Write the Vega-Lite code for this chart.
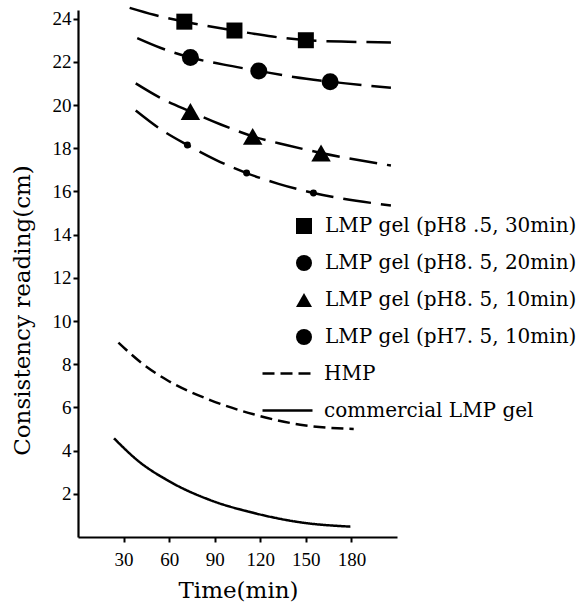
{
  "$schema": "https://vega.github.io/schema/vega-lite/v6.json",
  "width": 319,
  "height": 527,
  "autosize": "none",
  "padding": {"left": 78, "top": 10, "right": 191, "bottom": 70},
  "background": "white",
  "config": {
    "view": {"stroke": null},
    "axis": {
      "domainColor": "black", "domainWidth": 2.2, "tickColor": "black", "tickWidth": 2, "tickSize": 5,
      "grid": false, "labelFont": "Liberation Serif", "labelFontSize": 19, "labelColor": "black",
      "titleFont": "DejaVu Serif", "titleFontSize": 23, "titleFontWeight": "normal", "titleColor": "black"
    },
    "legend": {
      "labelFont": "DejaVu Serif", "labelFontSize": 20, "labelColor": "black", "labelLimit": 400
    }
  },
  "datasets": {
    "lines": [
      {"series": "A", "time": 34, "value": 24.5},
      {"series": "A", "time": 50, "value": 24.18},
      {"series": "A", "time": 70, "value": 23.86},
      {"series": "A", "time": 103, "value": 23.45},
      {"series": "A", "time": 128, "value": 23.17},
      {"series": "A", "time": 150, "value": 23.0},
      {"series": "A", "time": 178, "value": 22.93},
      {"series": "A", "time": 206, "value": 22.9},
      {"series": "B", "time": 39, "value": 23.1},
      {"series": "B", "time": 55, "value": 22.63},
      {"series": "B", "time": 74, "value": 22.2},
      {"series": "B", "time": 96, "value": 21.87},
      {"series": "B", "time": 119, "value": 21.58},
      {"series": "B", "time": 142, "value": 21.3},
      {"series": "B", "time": 166, "value": 21.08},
      {"series": "B", "time": 206, "value": 20.8},
      {"series": "C", "time": 38, "value": 21.0},
      {"series": "C", "time": 55, "value": 20.3},
      {"series": "C", "time": 74, "value": 19.7},
      {"series": "C", "time": 94, "value": 19.1},
      {"series": "C", "time": 115, "value": 18.55},
      {"series": "C", "time": 137, "value": 18.15},
      {"series": "C", "time": 160, "value": 17.78},
      {"series": "C", "time": 206, "value": 17.2},
      {"series": "D", "time": 38, "value": 19.75},
      {"series": "D", "time": 54, "value": 18.9},
      {"series": "D", "time": 72, "value": 18.15},
      {"series": "D", "time": 91, "value": 17.45},
      {"series": "D", "time": 111, "value": 16.85},
      {"series": "D", "time": 132, "value": 16.35},
      {"series": "D", "time": 155, "value": 15.93},
      {"series": "D", "time": 206, "value": 15.35},
      {"series": "E", "time": 26.6, "value": 9.0},
      {"series": "E", "time": 42, "value": 8.05},
      {"series": "E", "time": 58.5, "value": 7.27},
      {"series": "E", "time": 87, "value": 6.34},
      {"series": "E", "time": 115.6, "value": 5.68},
      {"series": "E", "time": 146.3, "value": 5.2},
      {"series": "E", "time": 181.5, "value": 5.0},
      {"series": "F", "time": 23.7, "value": 4.57},
      {"series": "F", "time": 40, "value": 3.5},
      {"series": "F", "time": 58.5, "value": 2.64},
      {"series": "F", "time": 87, "value": 1.71},
      {"series": "F", "time": 115.4, "value": 1.12},
      {"series": "F", "time": 146.3, "value": 0.68},
      {"series": "F", "time": 179.3, "value": 0.48}
    ],
    "points": [
      {"series": "A", "time": 70, "value": 23.86},
      {"series": "A", "time": 103, "value": 23.45},
      {"series": "A", "time": 150, "value": 23.0},
      {"series": "B", "time": 74, "value": 22.2},
      {"series": "B", "time": 119, "value": 21.58},
      {"series": "B", "time": 166, "value": 21.08},
      {"series": "C", "time": 74, "value": 19.7},
      {"series": "C", "time": 115, "value": 18.55},
      {"series": "C", "time": 160, "value": 17.78},
      {"series": "D", "time": 72, "value": 18.15},
      {"series": "D", "time": 111, "value": 16.85},
      {"series": "D", "time": 155, "value": 15.93}
    ]
  },
  "encoding": {
    "x": {
      "field": "time", "type": "quantitative",
      "scale": {"domain": [0, 210], "nice": false, "zero": false},
      "axis": {
        "values": [30, 60, 90, 120, 150, 180], "title": "Time(min)", "labelPadding": 8,
        "titleX": 160, "titleY": 53, "titleBaseline": "middle", "titleAlign": "center"
      }
    },
    "y": {
      "field": "value", "type": "quantitative",
      "scale": {"domain": [0, 24.4], "nice": false, "zero": false},
      "axis": {
        "values": [2, 4, 6, 8, 10, 12, 14, 16, 18, 20, 22, 24], "title": "Consistency reading(cm)", "labelPadding": 2,
        "titleX": -56, "titleY": 300, "titleBaseline": "middle", "titleAlign": "center", "titleAngle": 270
      }
    }
  },
  "layer": [
    {
      "data": {"name": "lines"},
      "mark": {"type": "line", "color": "black", "strokeWidth": 2.5, "interpolate": "monotone"},
      "encoding": {
        "strokeDash": {
          "field": "series", "type": "nominal",
          "scale": {"domain": ["A", "B", "C", "D", "E", "F"], "range": [[30, 10], [30, 10], [28, 10], [28, 10], [12, 6], [1, 0]]},
          "legend": {
            "title": null, "orient": "none", "legendX": 183, "legendY": 337, "padding": 0,
            "values": ["E", "F"],
            "labelOffset": 10, "rowPadding": -17, "symbolType": "stroke", "symbolSize": 2500,
            "symbolStrokeWidth": 2.5, "symbolStrokeColor": "black",
            "labelExpr": "datum.value == 'E' ? 'HMP' : 'commercial   LMP gel'"
          }
        }
      }
    },
    {
      "data": {"name": "points"},
      "transform": [{"filter": "datum.series == 'A'"}],
      "mark": {"type": "point", "size": 256, "filled": true, "fill": "black", "stroke": null, "opacity": 1},
      "encoding": {
        "shape": {
          "field": "series", "type": "nominal",
          "scale": {"domain": ["A", "B", "C", "D"], "range": ["square", "circle", "triangle-up", "circle"]},
          "legend": {
            "title": null, "orient": "none", "legendX": 216, "legendY": 206, "padding": 0,
            "labelOffset": 11, "rowPadding": 17, "symbolSize": 256,
            "symbolFillColor": "black", "symbolStrokeWidth": 0, "symbolOpacity": 1,
            "labelExpr": "datum.value == 'A' ? 'LMP  gel (pH8 .5, 30min)' : datum.value == 'B' ? 'LMP  gel (pH8. 5, 20min)' : datum.value == 'C' ? 'LMP  gel (pH8. 5, 10min)' : 'LMP  gel (pH7. 5, 10min)'"
          }
        }
      }
    },
    {
      "data": {"name": "points"},
      "transform": [{"filter": "datum.series == 'B'"}],
      "mark": {"type": "point", "shape": "circle", "size": 289, "filled": true, "fill": "black", "stroke": null, "opacity": 1}
    },
    {
      "data": {"name": "points"},
      "transform": [{"filter": "datum.series == 'C'"}],
      "mark": {"type": "point", "shape": "triangle-up", "size": 380, "filled": true, "fill": "black", "stroke": null, "opacity": 1}
    },
    {
      "data": {"name": "points"},
      "transform": [{"filter": "datum.series == 'D'"}],
      "mark": {"type": "point", "shape": "circle", "size": 48, "filled": true, "fill": "black", "stroke": null, "opacity": 1}
    }
  ]
}
